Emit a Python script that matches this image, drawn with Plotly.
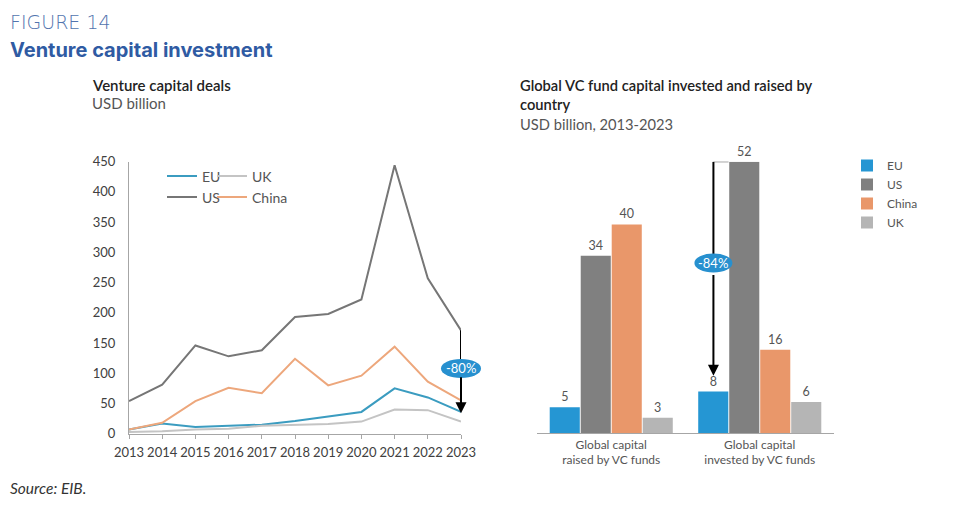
import plotly.graph_objects as go

years = list(range(2013, 2024))
us_deals = [54, 81, 146, 128, 138, 193, 198, 222, 444, 257, 171]
china_deals = [7, 18, 54, 76, 67, 124, 80, 96, 144, 86, 55]
eu_deals = [7, 17, 11, 13, 15, 21, 28, 36, 75, 60, 36]
uk_deals = [3, 4, 7, 8, 13, 15, 16, 20, 40, 39, 20]

bar_categories = ["Global capital<br>raised by VC funds", "Global capital<br>invested by VC funds"]
eu_fund = [5, 8]
us_fund = [34, 52]
china_fund = [40, 16]
uk_fund = [3, 6]

W, H = 970, 517
OFF = 8  # page body margin offset compensation
def px(x):
    return (x - OFF) / W
def py(y):
    return (H - (y - OFF)) / H

C_EU_LINE = "#3b9cc0"
C_US_LINE = "#767676"
C_CN_LINE = "#eda77c"
C_UK_LINE = "#c4c4c4"
C_EU_BAR = "#2596d3"
C_US_BAR = "#808080"
C_CN_BAR = "#e9976a"
C_UK_BAR = "#b5b5b5"
C_BADGE = "#2790cf"
FONT = "Lato"

# left panel geometry
L_X0, L_X1 = px(129), px(461)
L_Y0, L_Y1 = py(433.7), py(161.7)
L_RANGE_X = [2013, 2023]
L_RANGE_Y = [0, 450]
# right panel geometry
R_X0, R_X1 = px(537), px(834)
R_Y0, R_Y1 = py(433.3), py(161.7)
R_RANGE_X = [-0.5, 1.5]
R_RANGE_Y = [0, 52]

def to_paper(v, rng, d0, d1):
    return d0 + (v - rng[0]) / (rng[1] - rng[0]) * (d1 - d0)

fig = go.Figure()

line_specs = [
    ("EU", eu_deals, C_EU_LINE, "legend"),
    ("UK", uk_deals, C_UK_LINE, "legend2"),
    ("US", us_deals, C_US_LINE, "legend3"),
    ("China", china_deals, C_CN_LINE, "legend4"),
]
for name, vals, col, lg in line_specs:
    fig.add_trace(go.Scatter(x=years, y=vals, name=name, mode="lines",
                             line=dict(color=col, width=2), xaxis="x", yaxis="y",
                             legend=lg))

bar_specs = [("EU", eu_fund, C_EU_BAR), ("US", us_fund, C_US_BAR),
             ("China", china_fund, C_CN_BAR), ("UK", uk_fund, C_UK_BAR)]
for name, vals, col in bar_specs:
    fig.add_trace(go.Bar(x=bar_categories, y=vals, name=name, marker=dict(color=col, line=dict(width=0)),
                         text=[str(v) for v in vals], textposition="outside", cliponaxis=False,
                         textfont=dict(size=12.5, color="#555555", family=FONT),
                         xaxis="x2", yaxis="y2", legend="legend5"))

axis_font = dict(size=13, color="#404040", family=FONT)
leg_font = dict(size=14, color="#555555", family=FONT)

def small_legend(xpx, ypx):
    return dict(orientation="h", x=px(xpx), y=py(ypx), xanchor="left", yanchor="middle",
                font=leg_font, bgcolor="rgba(0,0,0,0)", itemwidth=30)

fig.update_layout(
    width=W, height=H,
    margin=dict(l=0, r=0, t=0, b=0, autoexpand=False),
    paper_bgcolor="white", plot_bgcolor="white",
    font=dict(family=FONT, color="#444444"),
    barmode="group", bargap=0.165, bargroupgap=0.03,
    xaxis=dict(domain=[L_X0, L_X1], range=L_RANGE_X, tickvals=years, tickangle=0,
               showgrid=False, zeroline=False, showline=True, linecolor="#a6a6a6", linewidth=1,
               ticks="outside", ticklen=4, tickcolor="#a6a6a6", tickfont=axis_font,
               ticklabelstandoff=3, automargin=False),
    yaxis=dict(domain=[L_Y0, L_Y1], range=L_RANGE_Y, dtick=50,
               showgrid=False, zeroline=False, showline=True, linecolor="#a6a6a6", linewidth=1,
               ticks="", tickfont=axis_font, ticklabelstandoff=10, automargin=False),
    xaxis2=dict(domain=[R_X0, R_X1], range=R_RANGE_X, anchor="y2", tickangle=0,
                showgrid=False, zeroline=False, showline=True, linecolor="#a6a6a6", linewidth=1,
                ticks="", tickfont=dict(size=12, color="#555555", family=FONT), automargin=False),
    yaxis2=dict(domain=[R_Y0, R_Y1], range=R_RANGE_Y, anchor="x2", visible=False, automargin=False),
    legend=small_legend(162, 176.5),
    legend2=small_legend(212, 176.5),
    legend3=small_legend(162, 197.5),
    legend4=small_legend(212, 197.5),
    legend5=dict(orientation="v", x=px(847), y=py(151), xanchor="left", yanchor="top",
                 font=dict(size=12, color="#555555", family=FONT),
                 bgcolor="rgba(0,0,0,0)", tracegroupgap=0),
    showlegend=True,
)

# Badge positions (data values)
badge_left_y = 108
badge_right_y = 32.6
badge_right_x = 0.688
arrow_left_end = 34
arrow_right_end = 11

bl_x = to_paper(2023, L_RANGE_X, L_X0, L_X1)
bl_y = to_paper(badge_left_y, L_RANGE_Y, L_Y0, L_Y1)
br_x = to_paper(badge_right_x, R_RANGE_X, R_X0, R_X1)
br_y = to_paper(badge_right_y, R_RANGE_Y, R_Y0, R_Y1)

# Arrow top segments
fig.add_shape(type="line", xref="x", yref="y", x0=2023, x1=2023, y0=us_deals[-1], y1=badge_left_y,
              line=dict(color="#000000", width=2), layer="above")
fig.add_shape(type="line", xref="x2", yref="y2", x0=badge_right_x, x1=badge_right_x,
              y0=us_fund[1], y1=badge_right_y, line=dict(color="#000000", width=2), layer="above")
fig.add_shape(type="line", xref="x2", yref="y2", x0=badge_right_x, x1=0.79, y0=us_fund[1], y1=us_fund[1],
              line=dict(color="#222222", width=1), layer="above")
# Badges (ellipses)
fig.add_shape(type="circle", xref="paper", yref="paper", xsizemode="pixel", ysizemode="pixel",
              xanchor=bl_x, yanchor=bl_y, x0=-20, x1=20, y0=-9.5, y1=9.5,
              fillcolor=C_BADGE, line=dict(width=0), layer="above")
fig.add_shape(type="circle", xref="paper", yref="paper", xsizemode="pixel", ysizemode="pixel",
              xanchor=br_x, yanchor=br_y, x0=-19, x1=19, y0=-9.5, y1=9.5,
              fillcolor=C_BADGE, line=dict(width=0), layer="above")

annotations = [
    dict(x=2023, y=arrow_left_end, ax=2023, ay=badge_left_y - 12, xref="x", yref="y", axref="x", ayref="y",
         showarrow=True, arrowhead=2, arrowsize=1.1, arrowwidth=2, arrowcolor="#000000", text=""),
    dict(x=badge_right_x, y=arrow_right_end, ax=badge_right_x, ay=badge_right_y - 2,
         xref="x2", yref="y2", axref="x2", ayref="y2",
         showarrow=True, arrowhead=2, arrowsize=1.1, arrowwidth=2, arrowcolor="#000000", text=""),
    dict(x=bl_x, y=bl_y, xref="paper", yref="paper", text="-80%", showarrow=False,
         xanchor="center", yanchor="middle",
         font=dict(size=13, color="white", family=FONT)),
    dict(x=br_x, y=br_y, xref="paper", yref="paper", text="-84%", showarrow=False,
         xanchor="center", yanchor="middle",
         font=dict(size=13, color="white", family=FONT)),
    # titles
    dict(x=px(8), y=py(22), xref="paper", yref="paper", xanchor="left", yanchor="middle",
         text="FIGURE 14", showarrow=False,
         font=dict(size=19, color="#5274ae", family="DejaVu Sans", weight=300)),
    dict(x=px(8), y=py(50), xref="paper", yref="paper", xanchor="left", yanchor="middle",
         text="<b>Venture capital investment</b>", showarrow=False,
         font=dict(size=20, color="#2f5ba3", family="Inter")),
    dict(x=px(90), y=py(84.5), xref="paper", yref="paper", xanchor="left", yanchor="middle",
         text="Venture capital deals", showarrow=False,
         font=dict(size=15, color="#222222", family=FONT, weight=600)),
    dict(x=px(90), y=py(103.5), xref="paper", yref="paper", xanchor="left", yanchor="middle",
         text="USD billion", showarrow=False,
         font=dict(size=15, color="#555555", family=FONT)),
    dict(x=px(518), y=py(84.5), xref="paper", yref="paper", xanchor="left", yanchor="middle",
         text="Global VC fund capital invested and raised by", showarrow=False,
         font=dict(size=14.7, color="#222222", family=FONT, weight=600)),
    dict(x=px(518), y=py(104), xref="paper", yref="paper", xanchor="left", yanchor="middle",
         text="country", showarrow=False,
         font=dict(size=14.7, color="#222222", family=FONT, weight=600)),
    dict(x=px(518), y=py(124.5), xref="paper", yref="paper", xanchor="left", yanchor="middle",
         text="USD billion, 2013-2023", showarrow=False,
         font=dict(size=14.7, color="#555555", family=FONT)),
    dict(x=px(8), y=py(488), xref="paper", yref="paper", xanchor="left", yanchor="middle",
         text="<i>Source: EIB.</i>", showarrow=False,
         font=dict(size=15.5, color="#333333", family=FONT)),
]
fig.update_layout(annotations=annotations)

fig.write_html("out.html")
